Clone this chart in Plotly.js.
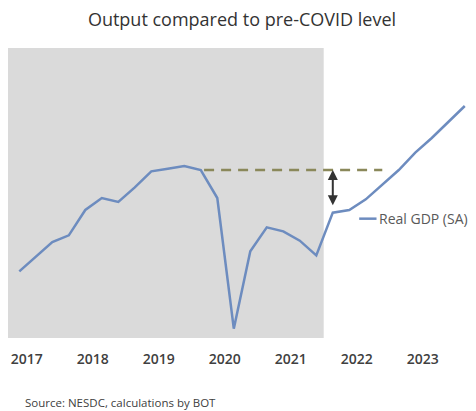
<!DOCTYPE html>
<html>
<head>
<meta charset="utf-8">
<script src="https://cdn.plot.ly/plotly-3.0.1.min.js"></script>
<style>html,body{margin:0;padding:0;background:#fff;}#chart{width:476px;height:411px;}</style>
</head>
<body>
<div id="chart"></div>
<script>
// Quarterly real GDP (SA), index, 2019Q4 = 100
const quarters = ['2017Q1','2017Q2','2017Q3','2017Q4','2018Q1','2018Q2','2018Q3','2018Q4',
  '2019Q1','2019Q2','2019Q3','2019Q4','2020Q1','2020Q2','2020Q3','2020Q4',
  '2021Q1','2021Q2','2021Q3','2021Q4','2022Q1','2022Q2','2022Q3','2022Q4',
  '2023Q1','2023Q2','2023Q3','2023Q4'];
const realGDP = [92.4, 93.5, 94.6, 95.1, 97.0, 97.9, 97.6, 98.7,
  99.9, 100.1, 100.3, 100.0, 97.9, 88.1, 93.9, 95.7,
  95.4, 94.7, 93.6, 96.8, 97.0, 97.8, 98.9, 100.0,
  101.3, 102.4, 103.6, 104.8];
const preCovidLevel = 100.0;
const preCovidFrom = '2019Q4';
const preCovidTo = '2022Q3';
const gapAt = '2021Q4';
const yearLabels = ['2017','2018','2019','2020','2021','2022','2023'];
const seriesName = 'Real GDP (SA)';
const titleText = 'Output compared to pre-COVID level';
const sourceText = 'Source: NESDC, calculations by BOT';

const idx = quarters.map((q, i) => i);
const qi = q => quarters.indexOf(q);
const tickPos = yearLabels.map((y, i) => i * 4 + 0.45);
const gapIdx = qi(gapAt);

const lineColor = '#6d8cbf';
const font = 'Open Sans, Liberation Sans, sans-serif';

const traces = [
  {
    x: idx, y: realGDP, type: 'scatter', mode: 'lines', name: seriesName,
    line: {color: lineColor, width: 2.5}, hoverinfo: 'skip'
  },
  {
    x: [qi(preCovidFrom) + 0.2, qi(preCovidTo)], y: [preCovidLevel, preCovidLevel],
    type: 'scatter', mode: 'lines', showlegend: false,
    line: {color: '#8a885a', width: 2.5, dash: '10px,7px'}, hoverinfo: 'skip'
  }
];

const layout = {
  width: 476, height: 411,
  margin: {l: 8, r: 0, t: 48, b: 73},
  paper_bgcolor: '#ffffff', plot_bgcolor: '#ffffff',
  showlegend: false,
  title: {
    text: titleText, x: 0.5, xanchor: 'center', xref: 'paper',
    y: 0.951, yref: 'container', yanchor: 'middle',
    font: {family: font, size: 18, color: '#333333'}
  },
  xaxis: {
    range: [-0.685, 27.68], showgrid: false, zeroline: false, showline: false,
    tickmode: 'array', tickvals: tickPos, ticktext: yearLabels, ticks: '',
    ticklabelstandoff: 11,
    tickfont: {family: font, size: 14, color: '#404040', weight: 600},
    fixedrange: true
  },
  yaxis: {
    range: [87.4, 109.15], showgrid: false, zeroline: false, showline: false,
    showticklabels: false, ticks: '', fixedrange: true
  },
  shapes: [
    {type: 'rect', xref: 'x', yref: 'paper', x0: -0.685, x1: qi('2021Q3') + 0.45, y0: 0, y1: 1,
     fillcolor: '#dadada', line: {width: 0}, layer: 'below'},
    {type: 'line', xref: 'x', yref: 'y', x0: 20.6, x1: 21.65,
     y0: 96.35, y1: 96.35, line: {color: lineColor, width: 2.5}}
  ],
  annotations: [
    {x: gapIdx, y: preCovidLevel, xref: 'x', yref: 'y',
     ax: gapIdx, ay: 97.25, axref: 'x', ayref: 'y',
     text: '', showarrow: true, arrowhead: 2, startarrowhead: 2, arrowside: 'end+start',
     arrowsize: 1, startarrowsize: 1, arrowwidth: 2, arrowcolor: '#333333',
     standoff: 0, startstandoff: 0},
    {x: 21.65, y: 96.35, xref: 'x', yref: 'y', xanchor: 'left', yanchor: 'middle',
     text: seriesName, showarrow: false,
     font: {family: font, size: 14, color: '#595959'}},
    {x: (23 - 8) / 468, y: -(403 - 338) / 290, xref: 'paper', yref: 'paper',
     xanchor: 'left', yanchor: 'middle',
     text: sourceText, showarrow: false,
     font: {family: font, size: 11.5, color: '#404040'}}
  ]
};

Plotly.newPlot('chart', traces, layout, {displayModeBar: false, staticPlot: true});
</script>
</body>
</html>
